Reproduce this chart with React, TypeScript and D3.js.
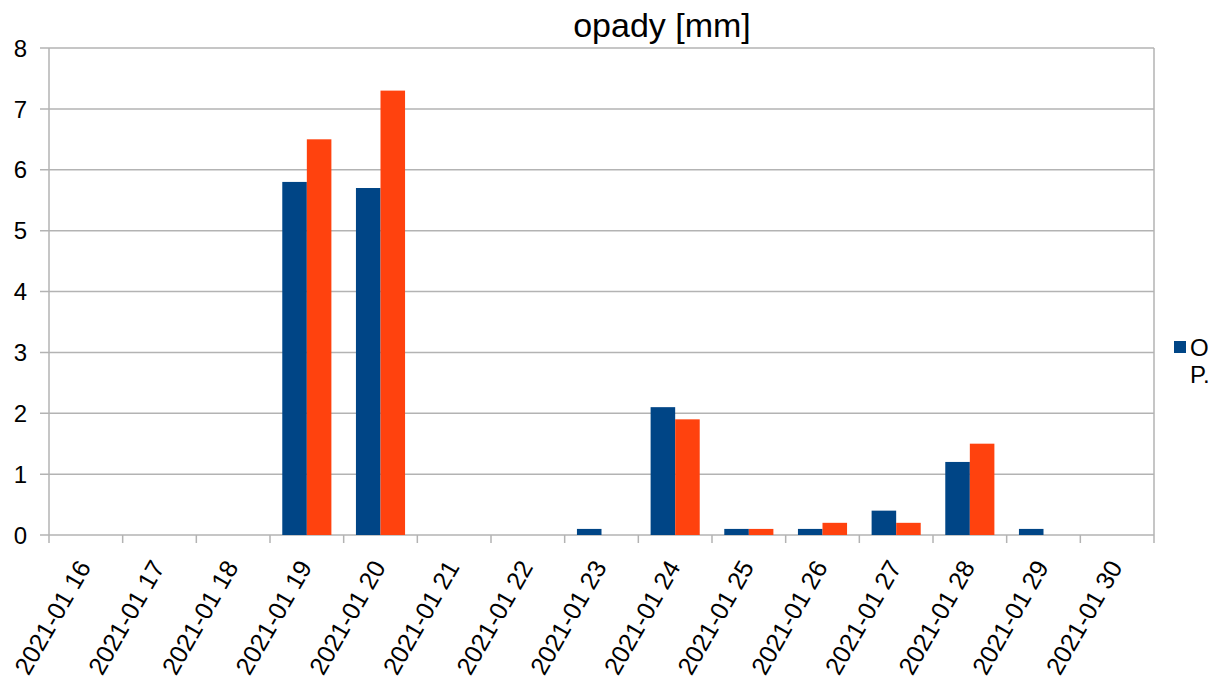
import React from "react";
import * as d3 from "d3";

const categories = [
  "2021-01 16", "2021-01 17", "2021-01 18", "2021-01 19", "2021-01 20",
  "2021-01 21", "2021-01 22", "2021-01 23", "2021-01 24", "2021-01 25",
  "2021-01 26", "2021-01 27", "2021-01 28", "2021-01 29", "2021-01 30",
];
const seriesA = [0, 0, 0, 5.8, 5.7, 0, 0, 0.1, 2.1, 0.1, 0.1, 0.4, 1.2, 0.1, 0];
const seriesB = [0, 0, 0, 6.5, 7.3, 0, 0, 0, 1.9, 0.1, 0.2, 0.2, 1.5, 0, 0];
const yTicks = [0, 1, 2, 3, 4, 5, 6, 7, 8];
const legendLines = ["O", "P."];
const colors = ["#004586", "#ff420e"];

const W = 1212, H = 679;
const left = 49, right = 1154, top = 48, bottom = 535;

export default function App() {
  const x = d3.scaleBand<string>().domain(categories).range([left, right]).padding(0);
  const y = d3.scaleLinear().domain([0, 8]).range([bottom, top]);
  const bw = x.bandwidth();
  const groupW = bw * (2 / 3);
  const sub = d3.scaleBand<number>().domain([0, 1]).range([0, groupW]).padding(0);
  const series = [seriesA, seriesB];
  const grid = "#b3b3b3";
  const font = "'Liberation Sans', Arial, sans-serif";
  const boundaries = categories.map((c) => x(c) as number).concat([right]);

  return (
    <svg width={W} height={H} style={{ position: "absolute", left: 0, top: 0, background: "#fff" }} fontFamily={font}>
      <rect x={0} y={0} width={W} height={H} fill="#fff" />
      {yTicks.map((t) => (
        <g key={t}>
          <line x1={40} x2={right} y1={y(t)} y2={y(t)} stroke={grid} strokeWidth={1.5} />
          <text x={27} y={y(t)} dy="0.36em" textAnchor="end" fontSize={24} fill="#000">{t}</text>
        </g>
      ))}
      <line x1={left} x2={left} y1={top} y2={bottom} stroke={grid} strokeWidth={1.5} />
      <line x1={right} x2={right} y1={top} y2={bottom} stroke={grid} strokeWidth={1.5} />
      {boundaries.map((bx, i) => (
        <line key={i} x1={bx} x2={bx} y1={bottom} y2={bottom + 8} stroke={grid} strokeWidth={1.5} />
      ))}
      {series.map((vals, si) =>
        vals.map((v, i) =>
          v > 0 ? (
            <rect
              key={`${si}-${i}`}
              x={(x(categories[i]) as number) + (bw - groupW) / 2 + (sub(si) as number)}
              y={y(v)}
              width={sub.bandwidth()}
              height={y(0) - y(v)}
              fill={colors[si]}
            />
          ) : null
        )
      )}
      {categories.map((c) => {
        const cx = (x(c) as number) + bw / 2;
        return (
          <text key={c} transform={`translate(${cx + 6},${567}) rotate(-60)`} textAnchor="end" fontSize={25} fill="#000">{c}</text>
        );
      })}
      <text x={662} y={37} textAnchor="middle" fontSize={34} fill="#000">opady [mm]</text>
      <rect x={1174} y={341} width={12} height={12} fill={colors[0]} />
      <text x={1190} y={356} fontSize={24} fill="#000">{legendLines[0]}</text>
      <text x={1190} y={383} fontSize={24} fill="#000">{legendLines[1]}</text>
    </svg>
  );
}
